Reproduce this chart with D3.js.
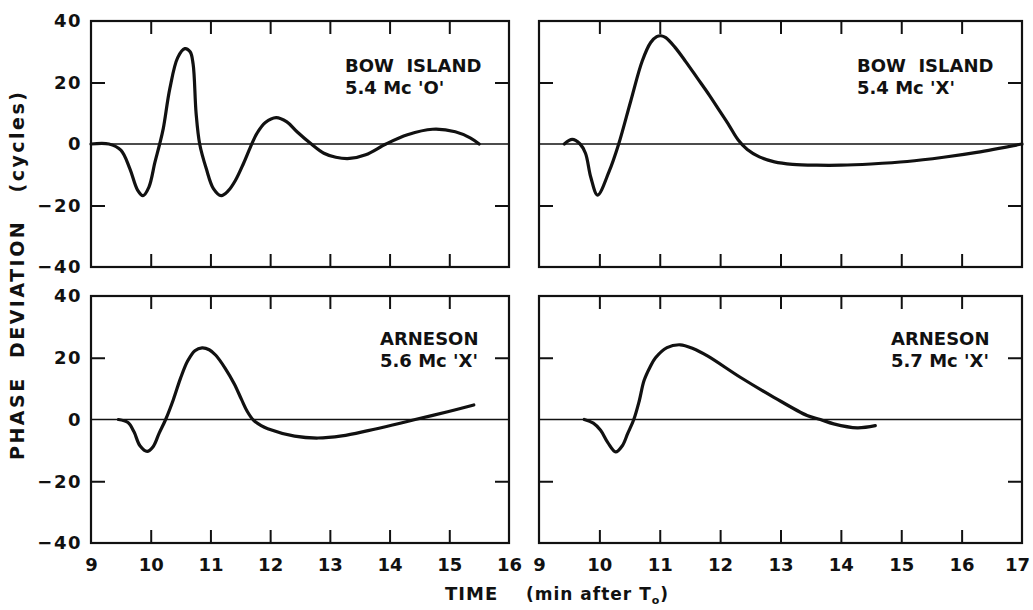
<!DOCTYPE html>
<html>
<head>
<meta charset="utf-8">
<script src="https://cdn.jsdelivr.net/npm/d3@7"></script>
<style>
  html, body { margin: 0; padding: 0; background: #ffffff; }
  svg { display: block; }
  text { font-family: "DejaVu Sans", "Liberation Sans", sans-serif; font-weight: bold; fill: #111; }
</style>
</head>
<body>
<svg id="chart" width="1033" height="610"></svg>
<script>
// ---------- DATA ----------
const yTickValues = [-40, -20, 0, 20, 40];
const xTicksLeft = [9, 10, 11, 12, 13, 14, 15, 16];
const xTicksRight = [9, 10, 11, 12, 13, 14, 15, 16, 17];

// Bow Island 5.4 Mc 'O'
const timeBowO  = [9.0, 9.3, 9.5, 9.65, 9.78, 9.87, 9.97, 10.07, 10.15, 10.21, 10.32, 10.45, 10.57, 10.66, 10.71, 10.76, 10.82, 10.93, 11.05, 11.18, 11.3, 11.42, 11.55, 11.67, 11.78, 11.92, 12.1, 12.28, 12.45, 12.69, 12.9, 13.1, 13.33, 13.6, 13.94, 14.3, 14.72, 15.1, 15.35, 15.5];
const phaseBowO = [0, 0, -2, -8, -15, -16.8, -14, -6, 0, 5, 18, 28, 31, 30, 26, 10, 0, -8, -14.5, -16.8, -15.2, -11.8, -6.5, -1, 3.5, 7, 8.6, 7.2, 4, 0, -3, -4.3, -4.7, -3.5, 0, 3, 4.8, 4, 2, 0];

// Bow Island 5.4 Mc 'X'
const timeBowX  = [9.42, 9.55, 9.68, 9.77, 9.86, 9.97, 10.16, 10.32, 10.52, 10.71, 10.85, 10.95, 11.02, 11.1, 11.25, 11.43, 11.62, 11.82, 12.0, 12.15, 12.3, 12.45, 12.65, 12.9, 13.2, 13.6, 14.0, 14.5, 15.1, 15.7, 16.25, 17.0];
const phaseBowX = [0, 1.5, 0, -3, -11, -16.6, -9, 0, 14, 27, 33, 34.9, 35.2, 34.6, 31.5, 26.8, 21.5, 15.9, 10.5, 6, 1.3, -1.8, -4.2, -5.8, -6.6, -6.9, -6.9, -6.5, -5.7, -4.3, -2.7, 0];

// Arneson 5.6 Mc 'X'
const timeArn56  = [9.46, 9.62, 9.72, 9.82, 9.94, 10.04, 10.14, 10.25, 10.38, 10.5, 10.62, 10.74, 10.86, 10.98, 11.09, 11.25, 11.4, 11.52, 11.62, 11.72, 11.85, 11.96, 12.41, 12.8, 13.2, 13.64, 14.05, 14.43, 14.99, 15.41];
const phaseArn56 = [0, -1, -4, -8.5, -10.3, -8.8, -4.5, 0, 6.5, 13.4, 19, 22.3, 23.2, 22.6, 20.8, 16.5, 11.5, 6.5, 2.5, -0.2, -2, -3, -5.4, -6, -5.3, -3.6, -1.8, 0, 2.6, 4.7];

// Arneson 5.7 Mc 'X'
const timeArn57  = [9.75, 9.9, 10.02, 10.14, 10.27, 10.38, 10.47, 10.57, 10.66, 10.74, 10.84, 10.93, 11.12, 11.34, 11.55, 11.79, 12.34, 12.89, 13.44, 13.66, 13.88, 14.27, 14.57];
const phaseArn57 = [0, -1.2, -3.5, -7.5, -10.5, -8.5, -4.5, 0, 6, 12.6, 17, 20, 23.3, 24.2, 23, 20.6, 13.6, 7.2, 1.3, 0, -1.4, -2.7, -2];

const labelsBowO  = ["BOW  ISLAND", "5.4 Mc 'O'"];
const labelsBowX  = ["BOW  ISLAND", "5.4 Mc 'X'"];
const labelsArn56 = ["ARNESON", "5.6 Mc 'X'"];
const labelsArn57 = ["ARNESON", "5.7 Mc 'X'"];

const yTitle = "PHASE  DEVIATION   (cycles)";
const xTitleMain = "TIME";
const xTitleUnit = "(min after T";
const xTitleSub = "o";

// ---------- LAYOUT ----------
const svg = d3.select("#chart");

const panels = [
  { t: timeBowO,  v: phaseBowO,  labels: labelsBowO,  xr: [91, 509],   yr: [267, 21],  xd: [9, 16], xt: xTicksLeft,  left: true,  bottom: false, lx: 345, ly: 72 },
  { t: timeBowX,  v: phaseBowX,  labels: labelsBowX,  xr: [539, 1022], yr: [267, 21],  xd: [9, 17], xt: xTicksRight, left: false, bottom: false, lx: 857, ly: 72 },
  { t: timeArn56, v: phaseArn56, labels: labelsArn56, xr: [91, 509],   yr: [543, 296], xd: [9, 16], xt: xTicksLeft,  left: true,  bottom: true,  lx: 380, ly: 345 },
  { t: timeArn57, v: phaseArn57, labels: labelsArn57, xr: [539, 1022], yr: [543, 296], xd: [9, 17], xt: xTicksRight, left: false, bottom: true,  lx: 891, ly: 345 }
];

const fmt = d => (d < 0 ? "\u2212" + Math.abs(d) : String(d));

panels.forEach(p => {
  const x = d3.scaleLinear().domain(p.xd).range(p.xr);
  const y = d3.scaleLinear().domain([-40, 40]).range(p.yr);
  const g = svg.append("g");
  const inner = p.xt.slice(1, -1);
  const tickLen = 13;

  // inward ticks
  const axB = g.append("g").attr("transform", `translate(0,${p.yr[0]})`)
    .call(d3.axisBottom(x).tickValues(inner).tickSize(-tickLen).tickFormat(""));
  const axT = g.append("g").attr("transform", `translate(0,${p.yr[1]})`)
    .call(d3.axisTop(x).tickValues(inner).tickSize(-tickLen).tickFormat(""));
  const axL = g.append("g").attr("transform", `translate(${p.xr[0]},0)`)
    .call(d3.axisLeft(y).tickValues([-20, 20]).tickSize(-14).tickFormat(""));
  const axR = g.append("g").attr("transform", `translate(${p.xr[1]},0)`)
    .call(d3.axisRight(y).tickValues([-20, 20]).tickSize(-14).tickFormat(""));
  [axB, axT, axL, axR].forEach(a => {
    a.select(".domain").remove();
    a.selectAll("line").attr("stroke", "#111").attr("stroke-width", 2);
  });

  // zero line
  g.append("line")
    .attr("x1", p.xr[0]).attr("x2", p.xr[1])
    .attr("y1", y(0)).attr("y2", y(0))
    .attr("stroke", "#111").attr("stroke-width", 1.6);

  // frame
  g.append("rect")
    .attr("x", p.xr[0]).attr("y", p.yr[1])
    .attr("width", p.xr[1] - p.xr[0]).attr("height", p.yr[0] - p.yr[1])
    .attr("fill", "none").attr("stroke", "#111").attr("stroke-width", 2.2);

  // y labels
  if (p.left) {
    const ly = g.append("g").attr("transform", `translate(${p.xr[0]},0)`)
      .call(d3.axisLeft(y).tickValues(yTickValues).tickSize(0).tickPadding(9).tickFormat(fmt));
    ly.select(".domain").remove();
    ly.selectAll("text").attr("font-size", 18).attr("letter-spacing", 1.5)
      .attr("font-family", "DejaVu Sans").attr("font-weight", "bold").attr("fill", "#111");
  }
  // x labels
  if (p.bottom) {
    const lx = g.append("g").attr("transform", `translate(0,${p.yr[0]})`)
      .call(d3.axisBottom(x).tickValues(p.xt).tickSize(0).tickPadding(15).tickFormat(d => String(d)));
    lx.select(".domain").remove();
    lx.selectAll("text").attr("font-size", 18)
      .attr("font-family", "DejaVu Sans").attr("font-weight", "bold").attr("fill", "#111");
    lx.selectAll(".tick").filter(d => d === 17).select("text").attr("dx", -5);
  }

  // curve
  const pts = p.t.map((t, i) => [t, p.v[i]]);
  g.append("path")
    .datum(pts)
    .attr("fill", "none")
    .attr("stroke", "#111")
    .attr("stroke-width", 3.2)
    .attr("stroke-linecap", "round")
    .attr("stroke-linejoin", "round")
    .attr("d", d3.line().x(d => x(d[0])).y(d => y(d[1])).curve(d3.curveCatmullRom.alpha(0.5)));

  // annotation
  p.labels.forEach((s, i) => {
    g.append("text")
      .attr("x", p.lx).attr("y", p.ly + i * 22)
      .attr("font-size", 18)
      .style("white-space", "pre")
      .text(s);
  });
});

// axis titles
svg.append("text")
  .attr("transform", "translate(24,276) rotate(-90)")
  .attr("text-anchor", "middle")
  .attr("font-size", 19)
  .attr("textLength", 368)
  .attr("lengthAdjust", "spacing")
  .style("white-space", "pre")
  .text(yTitle);

const xt = svg.append("text")
  .attr("x", 445).attr("y", 600)
  .attr("font-size", 18)
  .attr("letter-spacing", 1);
xt.append("tspan").text(xTitleMain);
xt.append("tspan").attr("x", 526).attr("font-size", 17).text(xTitleUnit);
xt.append("tspan").attr("dy", 4).attr("font-size", 11).text(xTitleSub);
xt.append("tspan").attr("dy", -4).attr("font-size", 17).text(")");
</script>
</body>
</html>
